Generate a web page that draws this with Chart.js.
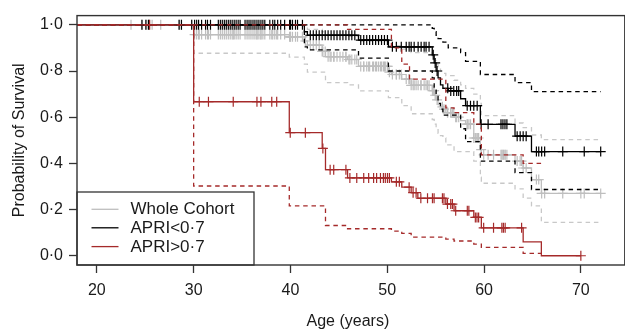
<!DOCTYPE html>
<html><head><meta charset="utf-8">
<script src="https://cdn.jsdelivr.net/npm/chart.js@4"></script>
<style>html,body{margin:0;padding:0;background:#fff;}canvas{display:block;}</style>
</head><body>
<canvas id="c" width="625" height="333"></canvas>
<script>
// ---------- axis ticks ----------
const xTickVals = [20, 30, 40, 50, 60, 70];
const xTickLabels = ['20', '30', '40', '50', '60', '70'];
const yTickVals = [0, 0.2, 0.4, 0.6, 0.8, 1.0];
const yTickLabels = ['0·0', '0·2', '0·4', '0·6', '0·8', '1·0'];
const legendLabels = ['Whole Cohort', 'APRI<0·7', 'APRI>0·7'];

// ---------- APRI>0.7 (red) ----------
const redT = [30.0, 39.88, 43.28, 43.62, 45.9, 50.43, 51.5, 52.47, 53.16, 56.05, 56.9, 58.94, 59.72, 64.04, 65.92];
const redS = [0.667, 0.533, 0.465, 0.373, 0.337, 0.320, 0.297, 0.273, 0.249, 0.224, 0.195, 0.166, 0.121, 0.060, 0.0];
const redEnd = 70.0;
const redCens = [25.45, 30.58, 31.53, 34.09, 36.54, 36.95, 38.07, 38.58, 39.98, 41.54, 43.35, 44.1, 44.47, 45.73,
  46.14, 46.85, 47.57, 48.08, 48.59, 48.9, 49.3, 49.6, 49.8, 50.02, 50.22, 50.94, 51.25, 52.26, 52.67, 52.98,
  53.47, 54.16, 54.67, 54.84, 55.7, 55.86, 56.22, 56.56, 56.73, 57.07, 58.27, 58.43, 59.1, 59.27, 59.44,
  59.96, 60.98, 61.84, 62.0, 62.18, 63.88, 70.0];
const redLoT = [30.0, 39.88, 43.62, 45.9, 50.43, 51.5, 52.47, 56.05, 56.9, 58.94, 59.72, 64.04, 65.92];
const redLoV = [0.302, 0.216, 0.131, 0.117, 0.107, 0.097, 0.081, 0.072, 0.064, 0.05, 0.036, 0.010, 0.010];
const redUpT = [45.9, 50.43, 51.5, 52.3, 56.05, 56.9, 58.94, 59.72, 64.04, 65.92];
const redUpV = [0.98, 0.90, 0.83, 0.765, 0.64, 0.62, 0.57, 0.437, 0.40, 0.40];

// ---------- APRI<0.7 (black) ----------
const blackT = [41.44, 41.75, 47.03, 50.12, 54.65, 54.85, 55.05, 55.25, 55.5, 55.75, 56.3, 57.58, 58.09, 59.62, 63.2, 64.9];
const blackS = [0.97, 0.955, 0.934, 0.905, 0.87, 0.835, 0.80, 0.77, 0.74, 0.725, 0.714, 0.68, 0.65, 0.569, 0.518, 0.451];
const blackEnd = 72.05;
const blackCens = [24.66, 25.07, 25.33, 28.5, 28.74, 29.8, 30.1, 30.31, 30.51, 30.82, 31.23, 31.43, 31.74,
  32.55, 32.76, 32.96, 33.17, 33.37, 33.58, 33.78, 33.98, 34.19, 34.39, 34.6, 34.8,
  35.31, 35.52, 35.72, 35.92, 36.13, 36.33, 36.54, 36.74, 36.95, 37.15, 37.35,
  37.87, 38.17, 38.38, 38.68, 38.99, 39.4, 39.91, 40.01, 40.21, 40.52, 40.73, 41.24,
  42.05, 42.36, 42.67, 42.97, 43.28, 43.59, 43.89, 44.2, 44.5, 44.81, 45.12, 45.42, 45.73, 46.04, 46.34, 46.65,
  47.26, 47.57, 47.88, 48.18, 48.49, 48.8, 49.1, 49.41, 49.71, 50.02,
  50.53, 50.94, 51.45, 51.96, 52.26, 52.47, 52.78, 53.19, 53.5, 53.81, 54.01, 54.32,
  54.75, 54.95, 55.15, 56.25, 56.56, 56.87, 57.17, 57.38,
  58.26, 58.6, 58.94, 59.29, 59.7, 60.42, 61.75, 61.95, 62.16, 62.36,
  63.42, 63.73, 64.04, 64.35, 65.41, 65.65, 65.95, 66.26, 68.13, 70.35, 72.05];
const blackLoT = [41.44, 41.75, 47.03, 50.12, 54.65, 54.85, 55.05, 55.25, 55.5, 55.75, 57.58, 58.09, 59.62, 63.2, 64.9, 72.05];
const blackLoV = [0.905, 0.892, 0.856, 0.80, 0.77, 0.73, 0.69, 0.66, 0.635, 0.609, 0.55, 0.494, 0.41, 0.36, 0.287, 0.287];
const blackUpT = [54.65, 54.85, 55.05, 55.25, 55.75, 56.3, 57.58, 58.09, 59.62, 63.2, 64.9, 72.05];
const blackUpV = [0.985, 0.97, 0.955, 0.94, 0.925, 0.90, 0.88, 0.842, 0.785, 0.75, 0.711, 0.711];

// ---------- Whole cohort (grey) ----------
const greyT = [30.0, 39.88, 41.44, 41.75, 43.28, 43.62, 45.9, 47.03, 50.12, 50.43, 51.5, 52.47, 54.65, 54.85, 55.05,
  55.25, 55.5, 55.75, 56.05, 56.9, 57.58, 58.09, 58.94, 59.62, 59.72, 63.2, 64.04, 64.9, 65.92];
const greyS = [0.958, 0.948, 0.93, 0.912, 0.885, 0.862, 0.85, 0.82, 0.795, 0.785, 0.765, 0.738, 0.715, 0.695, 0.675,
  0.655, 0.645, 0.635, 0.62, 0.60, 0.585, 0.57, 0.51, 0.46, 0.437, 0.41, 0.38, 0.33, 0.27];
const greyEnd = 72.05;
const greyOnlyCens = [23.53, 25.71, 26.6];
const greyLoT = [30.0, 39.88, 41.44, 41.75, 43.62, 45.9, 47.03, 50.12, 51.5, 52.47, 54.65, 54.85, 55.05, 55.25, 55.5,
  55.75, 56.05, 56.9, 58.94, 59.62, 59.72, 63.2, 64.04, 64.9, 65.92, 72.05];
const greyLoV = [0.877, 0.86, 0.83, 0.795, 0.75, 0.74, 0.714, 0.685, 0.65, 0.615, 0.59, 0.57, 0.55, 0.53, 0.52,
  0.51, 0.48, 0.451, 0.41, 0.34, 0.314, 0.29, 0.25, 0.216, 0.145, 0.145];
const greyUpT = [41.44, 41.75, 43.28, 43.62, 45.9, 47.03, 50.12, 51.5, 52.47, 54.65, 54.85, 55.05, 55.25, 55.5, 55.75,
  56.05, 56.9, 57.58, 58.09, 58.94, 59.62, 59.72, 63.2, 64.04, 64.9, 65.92, 72.05];
const greyUpV = [0.99, 0.98, 0.97, 0.955, 0.95, 0.93, 0.91, 0.895, 0.88, 0.86, 0.845, 0.83, 0.815, 0.80, 0.79,
  0.78, 0.76, 0.74, 0.725, 0.70, 0.66, 0.607, 0.575, 0.555, 0.523, 0.503, 0.503];

// ---------- styles ----------
const RED = '#a52a2a', BLACK = '#000000', GREY = '#bebebe', GREYD = '#c8c8c8';
const FONT = '"Liberation Sans", Arial, Helvetica, sans-serif';
const TXT = '#1a1a1a';
const DASH = [4.5, 3.8];

// ---------- helpers ----------
function stepLine(times, vals, end) {
  const d = [{x: 0, y: 1}];
  times.forEach((t, i) => d.push({x: t, y: vals[i]}));
  if (end !== undefined) d.push({x: end, y: vals[vals.length - 1]});
  return d;
}
function survAt(times, vals, t) {
  let v = 1;
  for (let i = 0; i < times.length; i++) if (times[i] <= t) v = vals[i];
  return v;
}
function marks(cens, times, vals) {
  return cens.map(t => ({x: t, y: survAt(times, vals, t)}));
}
function lineDs(data, color, dashed, order, w) {
  return {data, borderColor: color, borderWidth: w || 1.3, borderDash: dashed ? DASH : [],
    stepped: true, pointRadius: 0, fill: false, order, tension: 0};
}
function markDs(data, color, order) {
  return {data, showLine: false, pointStyle: 'cross', pointRadius: 5, pointBorderWidth: 1.2,
    pointBorderColor: color, pointBackgroundColor: color, borderColor: color, order};
}

const greyCens = greyOnlyCens.concat(blackCens, redCens).sort((a, b) => a - b);

const datasets = [
  markDs(marks(redCens, redT, redS), RED, 0),
  lineDs(stepLine(redT, redS, redEnd), RED, false, 1),
  lineDs(stepLine(redLoT, redLoV), RED, true, 2),
  lineDs(stepLine(redUpT, redUpV), RED, true, 2),
  markDs(marks(blackCens, blackT, blackS), BLACK, 3),
  lineDs(stepLine(blackT, blackS, blackEnd), BLACK, false, 4),
  lineDs(stepLine(blackLoT, blackLoV), BLACK, true, 5),
  lineDs(stepLine(blackUpT, blackUpV), BLACK, true, 5),
  markDs(marks(greyCens, greyT, greyS), GREY, 6),
  lineDs(stepLine(greyT, greyS, greyEnd), GREY, false, 7),
  lineDs(stepLine(greyLoT, greyLoV), GREYD, true, 8),
  lineDs(stepLine(greyUpT, greyUpV), GREYD, true, 8)
];

const decor = {
  id: 'decor',
  beforeDraw(chart) {
    const ctx = chart.ctx;
    ctx.save(); ctx.fillStyle = '#fff'; ctx.fillRect(0, 0, chart.width, chart.height); ctx.restore();
  },
  afterDraw(chart) {
    const ctx = chart.ctx, a = chart.chartArea;
    ctx.save();
    const lx = a.left, ly = 192, lw = 177, lh = a.bottom - ly;
    ctx.fillStyle = '#fff';
    ctx.fillRect(lx, ly, lw, lh);
    ctx.strokeStyle = '#333'; ctx.lineWidth = 1.3;
    ctx.strokeRect(lx, ly, lw, lh);
    const cols = [GREY, BLACK, RED];
    const ys = [209.3, 227.8, 246.6];
    ctx.font = '17px ' + FONT; ctx.textBaseline = 'middle'; ctx.textAlign = 'left';
    for (let i = 0; i < 3; i++) {
      ctx.strokeStyle = cols[i]; ctx.lineWidth = 1.3;
      ctx.beginPath(); ctx.moveTo(91.5, ys[i]); ctx.lineTo(118.5, ys[i]); ctx.stroke();
      ctx.fillStyle = TXT; ctx.fillText(legendLabels[i], 130.5, ys[i] + 0.5);
    }
    ctx.strokeStyle = '#333'; ctx.lineWidth = 1.4;
    ctx.strokeRect(a.left, a.top, a.right - a.left + 6, a.bottom - a.top);
    ctx.fillStyle = TXT; ctx.font = '16px ' + FONT; ctx.textAlign = 'center'; ctx.textBaseline = 'middle';
    ctx.fillText('Age (years)', (a.left + a.right) / 2, 322);
    ctx.translate(20, (a.top + a.bottom) / 2);
    ctx.rotate(-Math.PI / 2);
    ctx.fillText('Probability of Survival', 0, 0);
    ctx.restore();
  }
};

Chart.defaults.font.family = FONT;
new Chart(document.getElementById('c'), {
  type: 'line',
  data: {datasets},
  options: {
    responsive: false, animation: false, devicePixelRatio: 1, events: [],
    layout: {padding: {top: 12, right: 0, left: 0, bottom: 0}},
    plugins: {legend: {display: false}, tooltip: {enabled: false}},
    scales: {
      x: {
        type: 'linear', min: 17.95, max: 73.92,
        afterBuildTicks: s => { s.ticks = xTickVals.map(v => ({value: v})); },
        afterFit: s => { s.height = 68; },
        ticks: {callback: v => xTickLabels[xTickVals.indexOf(v)], font: {size: 16}, color: TXT,
          padding: 8, maxRotation: 0, autoSkip: false},
        grid: {display: true, drawOnChartArea: false, drawTicks: true, tickLength: 8,
          tickColor: '#333', tickWidth: 1.3, color: '#333'},
        border: {display: false}
      },
      y: {
        type: 'linear', min: -0.04, max: 1.04,
        afterBuildTicks: s => { s.ticks = yTickVals.map(v => ({value: v})); },
        afterFit: s => { s.width = 77; },
        ticks: {callback: v => yTickLabels[yTickVals.findIndex(t => Math.abs(t - v) < 1e-9)], font: {size: 16},
          color: TXT, padding: 6, autoSkip: false},
        grid: {display: true, drawOnChartArea: false, drawTicks: true, tickLength: 8,
          tickColor: '#333', tickWidth: 1.3, color: '#333'},
        border: {display: false}
      }
    }
  },
  plugins: [decor]
});
</script>
</body></html>
